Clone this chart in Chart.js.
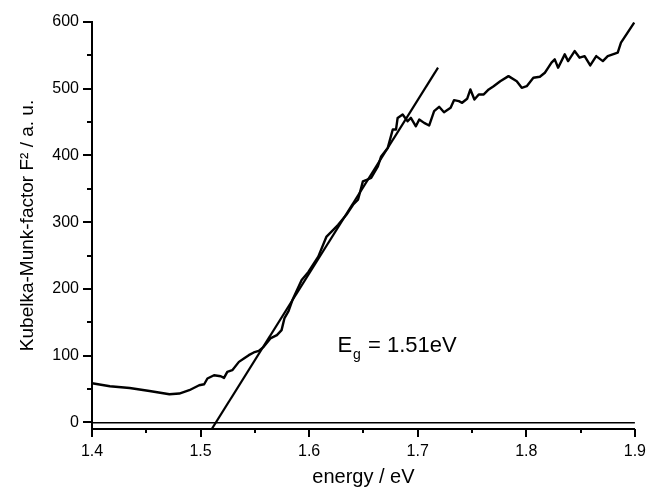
<!DOCTYPE html>
<html>
<head>
<meta charset="utf-8">
<script src="https://cdn.jsdelivr.net/npm/chart.js@4"></script>
<style>
  html, body { margin:0; padding:0; background:#fff; }
  canvas { display:block; }
</style>
</head>
<body>
<canvas id="chart" width="651" height="495"></canvas>
<script>
// Kubelka-Munk plot, values
const energy = [
  1.400, 1.4165, 1.4347, 1.4530, 1.4713, 1.4804, 1.4896, 1.4987, 1.5033, 1.5063,
  1.5124, 1.5186, 1.5216, 1.5246, 1.5292, 1.5353, 1.5399, 1.5444, 1.5490, 1.5536,
  1.5581, 1.5643, 1.5703, 1.5746, 1.5773, 1.5810, 1.5846, 1.5931, 1.5993, 1.6084,
  1.6160, 1.6206, 1.6267, 1.6343, 1.6404, 1.6450, 1.6495, 1.6571, 1.6633, 1.6663,
  1.6724, 1.6770, 1.6800, 1.6815, 1.6861, 1.6907, 1.6937, 1.6983, 1.7014, 1.7059,
  1.7105, 1.7151, 1.7197, 1.7242, 1.7303, 1.7334, 1.7379, 1.7409, 1.7455, 1.7485,
  1.7522, 1.7562, 1.7608, 1.7654, 1.7699, 1.7760, 1.7836, 1.7912, 1.7958, 1.8004,
  1.8065, 1.8125, 1.8171, 1.8202, 1.8232, 1.8262, 1.8293, 1.8354, 1.8385, 1.8445,
  1.8491, 1.8537, 1.8589, 1.8644, 1.8705, 1.8750, 1.8842, 1.8872, 1.8933, 1.8994
];
const kmFactor = [
  58.6, 54.1, 51.5, 47.0, 42.1, 43.1, 48.1, 55.6, 57.1, 65.7,
  70.6, 69.1, 66.6, 75.6, 78.1, 90.6, 95.7, 100.7, 104.7, 107.1,
  113.1, 125.8, 130.7, 138.2, 156.3, 166.8, 183.3, 213.4, 225.4, 248.4,
  278.4, 285.9, 296.0, 311.0, 326.1, 333.6, 361.1, 366.2, 383.6, 398.6,
  411.3, 438.8, 438.8, 456.3, 461.3, 451.2, 456.3, 443.7, 453.8, 448.8,
  444.8, 466.3, 472.9, 464.8, 471.4, 482.8, 481.3, 478.9, 484.9, 498.9,
  483.8, 491.4, 491.4, 498.9, 503.8, 511.3, 518.9, 511.3, 501.4, 503.8,
  516.4, 518.0, 524.0, 531.5, 539.0, 544.0, 531.5, 551.5, 541.4, 556.4,
  546.5, 548.9, 534.9, 548.9, 541.4, 548.9, 554.0, 569.0, 584.1, 599.1
];

// linear fit (tangent) end points
const fitX = [1.5103, 1.7187];
const fitY = [-10, 531.5];

const xTicks = [1.4, 1.45, 1.5, 1.55, 1.6, 1.65, 1.7, 1.75, 1.8, 1.85, 1.9];
const yTicks = [0, 50, 100, 150, 200, 250, 300, 350, 400, 450, 500, 550, 600];

const egLabel = { x: 1.626, y: 105.6, main: 'E', sub: 'g', rest: ' = 1.51eV' };

const FONT = 'Liberation Sans, Arial, sans-serif';

function isMajor(v, step){
  const r = v / step;
  return Math.abs(r - Math.round(r)) < 1e-6;
}

// draws major/minor ticks pointing outward, and the Eg annotation
const extrasPlugin = {
  id: 'extras',
  afterDraw(chart){
    const ctx = chart.ctx;
    const xs = chart.scales.x, ys = chart.scales.y;
    ctx.save();
    ctx.strokeStyle = '#000';
    ctx.lineWidth = 2;
    ctx.beginPath();
    xTicks.forEach(v => {
      const px = Math.round(xs.getPixelForValue(v));
      const len = isMajor(v, 0.1) ? 8 : 4;
      ctx.moveTo(px, ys.bottom);
      ctx.lineTo(px, ys.bottom + len);
    });
    yTicks.forEach(v => {
      const py = Math.round(ys.getPixelForValue(v));
      const len = isMajor(v, 100) ? 9 : 5;
      ctx.moveTo(xs.left, py);
      ctx.lineTo(xs.left - len, py);
    });
    ctx.stroke();

    // E_g label
    const lx = xs.getPixelForValue(egLabel.x);
    const ly = ys.getPixelForValue(egLabel.y);
    ctx.fillStyle = '#000';
    ctx.textBaseline = 'alphabetic';
    ctx.textAlign = 'left';
    ctx.font = '22px ' + FONT;
    ctx.fillText(egLabel.main, lx, ly);
    const w = ctx.measureText(egLabel.main).width;
    ctx.font = '14px ' + FONT;
    ctx.fillText(egLabel.sub, lx + w + 1, ly + 7);
    const ws = ctx.measureText(egLabel.sub).width;
    ctx.font = '22px ' + FONT;
    ctx.fillText(egLabel.rest, lx + w + ws + 2, ly);
    ctx.restore();
  }
};

new Chart(document.getElementById('chart'), {
  type: 'line',
  data: {
    datasets: [
      {
        label: 'F²',
        data: energy.map((e, i) => ({ x: e, y: kmFactor[i] })),
        borderColor: '#000',
        borderWidth: 2.4,
        pointRadius: 0,
        tension: 0,
        borderJoinStyle: 'round'
      },
      {
        label: 'fit',
        data: fitX.map((e, i) => ({ x: e, y: fitY[i] })),
        borderColor: '#000',
        borderWidth: 2.2,
        pointRadius: 0,
        tension: 0
      }
    ]
  },
  options: {
    responsive: false,
    animation: false,
    devicePixelRatio: 1,
    layout: { padding: { top: 22, right: 12, bottom: 0, left: 0 } },
    plugins: { legend: { display: false }, tooltip: { enabled: false } },
    scales: {
      x: {
        type: 'linear',
        min: 1.4, max: 1.9,
        afterBuildTicks: s => { s.ticks = xTicks.map(v => ({ value: v })); },
        afterFit: s => { s.height = 66; },
        border: { display: true, color: '#000', width: 2 },
        grid: { drawOnChartArea: false, tickLength: 8, tickColor: 'rgba(0,0,0,0)' },
        ticks: {
          autoSkip: false, maxRotation: 0, padding: 5, color: '#000',
          font: { family: FONT, size: 16 },
          callback: v => isMajor(v, 0.1) ? v.toFixed(1) : ''
        },
        title: {
          display: true, text: 'energy / eV', color: '#000',
          font: { family: FONT, size: 20 },
          padding: { top: 0, bottom: 6 }
        }
      },
      y: {
        type: 'linear',
        min: -10, max: 600,
        afterBuildTicks: s => { s.ticks = yTicks.map(v => ({ value: v })); },
        afterFit: s => { s.width = 92; },
        border: { display: true, color: '#000', width: 2 },
        grid: {
          drawOnChartArea: true, tickLength: 9,
          tickColor: 'rgba(0,0,0,0)',
          color: c => (c.tick && c.tick.value === 0) ? '#000' : 'rgba(0,0,0,0)',
          lineWidth: 1.5
        },
        ticks: {
          autoSkip: false, padding: 4, color: '#000',
          font: { family: FONT, size: 16 },
          callback: v => isMajor(v, 100) ? String(v) : ''
        },
        title: {
          display: true, text: 'Kubelka-Munk-factor F² / a. u.', color: '#000',
          font: { family: FONT, size: 19 },
          padding: { top: 16, bottom: 0 }
        }
      }
    }
  },
  plugins: [extrasPlugin]
});
</script>
</body>
</html>
